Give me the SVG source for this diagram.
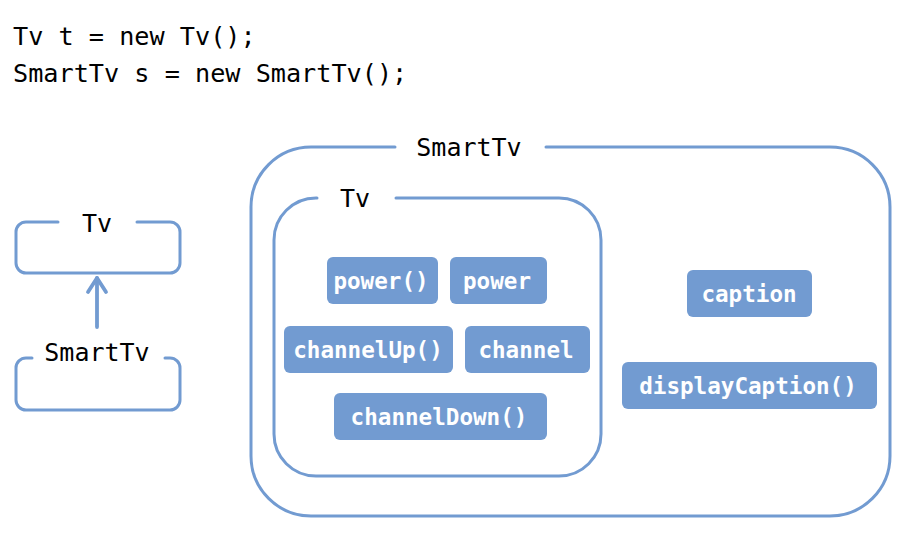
<svg xmlns="http://www.w3.org/2000/svg" width="916" height="543" viewBox="0 0 916 543">
<style>
.code{font-family:"DejaVu Sans Mono","Liberation Mono",monospace;font-size:25.2px;fill:#000}
.lbl{font-family:"DejaVu Sans Mono","Liberation Mono",monospace;font-size:25px;fill:#000}
.ln{fill:none;stroke:#729bd1;stroke-width:3;stroke-linecap:round;stroke-linejoin:round}
.arr{fill:none;stroke:#729bd1;stroke-width:3.8;stroke-linecap:round;stroke-linejoin:round}
.pill{fill:#729bd1}
.pt{font-family:"DejaVu Sans Mono","Liberation Mono",monospace;font-size:22.6px;font-weight:bold;fill:#fff;text-anchor:middle}
</style>
<rect width="916" height="543" fill="#fff"/>
<g id="code">
<text class="code" x="13" y="45">Tv t = new Tv();</text>
<text class="code" x="13" y="82">SmartTv s = new SmartTv();</text>
</g>
<g id="node-tv-small">
<path class="ln" d="M58,222 H26 A10,10 0 0 0 16,232 V263 A10,10 0 0 0 26,273 H170 A10,10 0 0 0 180,263 V232 A10,10 0 0 0 170,222 H137"/>
<text class="lbl" x="97" y="232" text-anchor="middle">Tv</text>
</g>
<g id="node-smarttv-small">
<path class="ln" d="M32,358 H26 A10,10 0 0 0 16,368 V400 A10,10 0 0 0 26,410 H170 A10,10 0 0 0 180,400 V368 A10,10 0 0 0 170,358 H165"/>
<text class="lbl" x="97" y="361" text-anchor="middle">SmartTv</text>
</g>
<g id="connectors">
<path class="arr" d="M97,327 V278"/>
<path class="arr" d="M88,292 L97,278 L106,292"/>
</g>
<g id="node-smarttv">
<path class="ln" d="M395,147 H311 A60,60 0 0 0 251,207 V456 A60,60 0 0 0 311,516 H830 A60,60 0 0 0 890,456 V207 A60,60 0 0 0 830,147 H546"/>
<text class="lbl" x="469" y="156" text-anchor="middle">SmartTv</text>
</g>
<g id="node-tv">
<path class="ln" d="M317,198 H316 A42,42 0 0 0 274,240 V434 A42,42 0 0 0 316,476 H559 A42,42 0 0 0 601,434 V240 A42,42 0 0 0 559,198 H396"/>
<text class="lbl" x="355" y="207" text-anchor="middle">Tv</text>
</g>
<g id="m-power-fn"><rect class="pill" x="327" y="257" width="111" height="47" rx="6"/><text class="pt" x="381" y="289">power()</text></g>
<g id="m-power"><rect class="pill" x="450" y="257" width="97" height="47" rx="6"/><text class="pt" x="497" y="289">power</text></g>
<g id="m-channelup"><rect class="pill" x="284" y="326" width="169" height="47" rx="6"/><text class="pt" x="368" y="358">channelUp()</text></g>
<g id="m-channel"><rect class="pill" x="465" y="326" width="125" height="47" rx="6"/><text class="pt" x="526" y="358">channel</text></g>
<g id="m-channeldown"><rect class="pill" x="334" y="393" width="213" height="47" rx="6"/><text class="pt" x="439" y="425">channelDown()</text></g>
<g id="m-caption"><rect class="pill" x="687" y="270" width="125" height="47" rx="6"/><text class="pt" x="749" y="302">caption</text></g>
<g id="m-displaycaption"><rect class="pill" x="622" y="362" width="255" height="47" rx="6"/><text class="pt" x="748" y="394">displayCaption()</text></g>
</svg>
